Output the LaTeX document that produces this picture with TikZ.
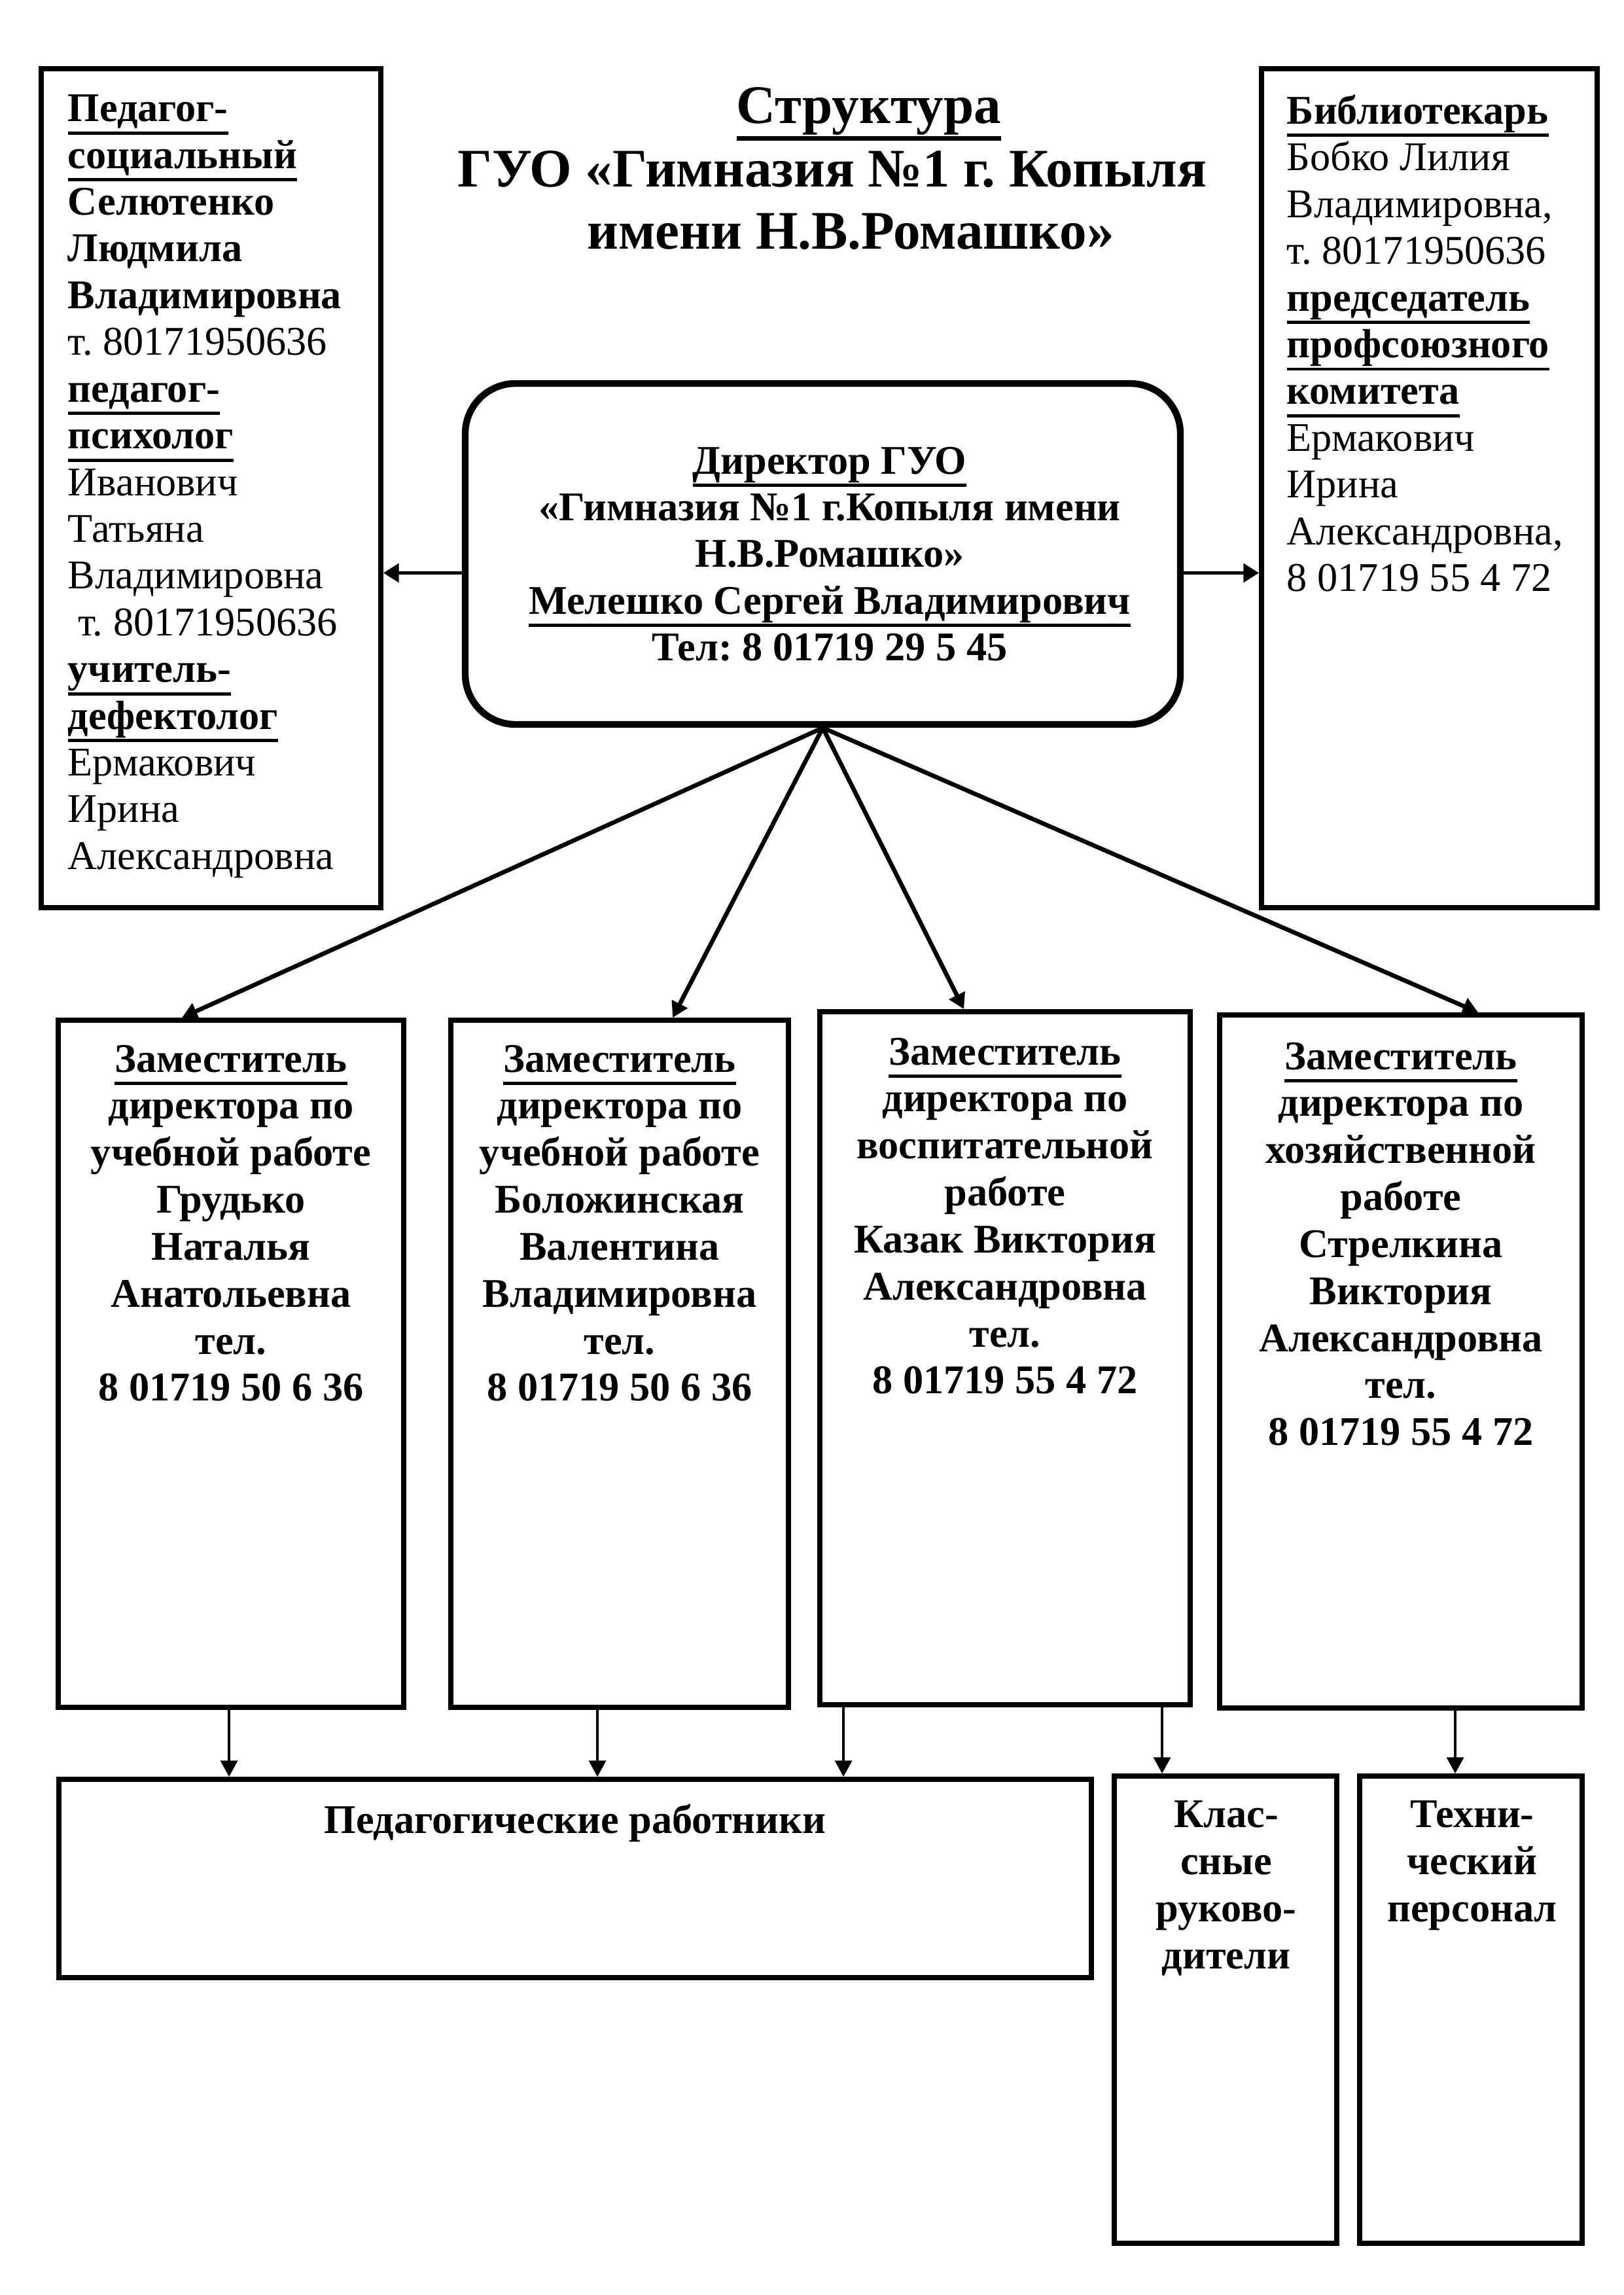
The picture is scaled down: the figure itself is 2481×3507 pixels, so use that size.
\documentclass[tikz,border=0pt]{standalone}
\usepackage{fontspec}
\setmainfont{Liberation Serif}
\usetikzlibrary{arrows.meta,fit,calc}
\newcommand{\ulx}[1]{\leavevmode\setbox0\hbox{#1}\rlap{\vrule height -0.24em depth 0.32em width \wd0}\box0}
\frenchspacing

\begin{document}
\frenchspacing
\begin{tikzpicture}[x=0.0846432mm,y=-0.0846432mm,
  box/.style={draw,line width=1.9pt,inner sep=0pt},
  dirbox/.style={draw,line width=2.5pt,rounded corners=6.5mm,inner sep=0pt},
  txt/.style={inner sep=0pt,font=\fontsize{15}{17.2}\selectfont\frenchspacing},
  ttl/.style={inner sep=0pt,font=\fontsize{20}{23}\selectfont\bfseries\frenchspacing},
  fan/.style={line width=1.6pt,-{Triangle[length=2mm,width=2.2mm]}},
  side/.style={line width=1.2pt,-{Triangle[length=2mm,width=2.4mm]}},
  down/.style={line width=0.9pt,-{Triangle[length=2.1mm,width=2.2mm]}},
]
\useasboundingbox (0,0) rectangle (2481,3507);

% boxes
\node[box,fit={(63,105) (582,1387)}] (L) {};
\node[box,fit={(1928,105) (2441,1387)}] (R) {};
\node[dirbox,fit={(711,586) (1804,1107)}] (dir) {};
\node[box,fit={(89,1559) (617,2609)}] (d1) {};
\node[box,fit={(689,1559) (1205,2609)}] (d2) {};
\node[box,fit={(1253,1546) (1819,2605)}] (d3) {};
\node[box,fit={(1864,1551) (2418,2610)}] (d4) {};
\node[box,fit={(90,2719) (1668,3022)}] (ped) {};
\node[box,fit={(1703,2714) (2043,3428)}] (kl) {};
\node[box,fit={(2078,2714) (2418,3428)}] (tech) {};

% title
\node[ttl,anchor=base] (t1) at (1328,188) {\ulx{Структура}};
\node[ttl,anchor=base] (t2) at (1272,285) {ГУО «Гимназия №1 г. Копыля};
\node[ttl,anchor=base] (t3) at (1300,380) {имени Н.В.Ромашко»};

% left text
\node[txt,anchor=north west,align=left] (Ltext) at (103,144) {%
\textbf{\ulx{Педагог-}}\\
\textbf{\ulx{социальный}}\\
\textbf{Селютенко}\\
\textbf{Людмила}\\
\textbf{Владимировна}\\
т. 80171950636\\
\textbf{\ulx{педагог-}}\\
\textbf{\ulx{психолог}}\\
Иванович\\
Татьяна\\
Владимировна\\
\hspace*{0.25em}т. 80171950636\\
\textbf{\ulx{учитель-}}\\
\textbf{\ulx{дефектолог}}\\
Ермакович\\
Ирина\\
Александровна};

% right text
\node[txt,anchor=north west,align=left] (Rtext) at (1966,144) {%
\textbf{\ulx{Библиотекарь}}\\
Бобко Лилия\\
Владимировна,\\
т. 80171950636\\
\textbf{\ulx{председатель}}\\
\textbf{\ulx{профсоюзного}}\\
\textbf{\ulx{комитета}}\\
Ермакович\\
Ирина\\
Александровна,\\
8 01719 55 4 72};

% director text
\node[txt,anchor=north,align=center,font=\fontsize{15}{17.2}\selectfont\bfseries\frenchspacing] (dirtext) at (1268,682) {%
\ulx{Директор ГУО}\\
«Гимназия №1 г.Копыля имени\\
Н.В.Ромашко»\\
\ulx{Мелешко Сергей Владимирович}\\
Тел: 8 01719 29 5 45};

% deputies
\tikzset{deptxt/.style={txt,anchor=north,align=center,font=\fontsize{15}{17.3}\selectfont\bfseries\frenchspacing}}
\node[deptxt] (d1text) at (353,1596) {%
\ulx{Заместитель}\\ директора по\\ учебной работе\\ Грудько\\ Наталья\\ Анатольевна\\ тел.\\ 8 01719 50 6 36};
\node[deptxt] (d2text) at (947,1596) {%
\ulx{Заместитель}\\ директора по\\ учебной работе\\ Боложинская\\ Валентина\\ Владимировна\\ тел.\\ 8 01719 50 6 36};
\node[deptxt] (d3text) at (1536,1585) {%
\ulx{Заместитель}\\ директора по\\ воспитательной\\ работе\\ Казак Виктория\\ Александровна\\ тел.\\ 8 01719 55 4 72};
\node[deptxt] (d4text) at (2141,1592) {%
\ulx{Заместитель}\\ директора по\\ хозяйственной\\ работе\\ Стрелкина\\ Виктория\\ Александровна\\ тел.\\ 8 01719 55 4 72};

% bottom texts
\node[deptxt] (pedtext) at (879,2756) {Педагогические работники};
\node[deptxt] (kltext) at (1874,2751) {Клас-\\сные\\руково-\\дители};
\node[deptxt] (techtext) at (2250,2751) {Техни-\\ческий\\персонал};

% side arrows
\coordinate (la) at ($(dir.west)+(0,29)$);
\coordinate (ra) at ($(dir.east)+(0,29)$);
\draw[side] (la) -- (la -| L.east);
\draw[side] (ra) -- (ra -| R.west);

% fan arrows
\draw[fan] (dir.south) -- ($(d1.north west)+(193,0)$);
\draw[fan] (dir.south) -- ($(d2.north west)+(343,0)$);
\draw[fan] (dir.south) -- ($(d3.north west)+(224,0)$);
\draw[fan] (dir.south) -- ($(d4.north west)+(399,0)$);

% down arrows
\coordinate (s1) at ($(d1.south west)+(265,0)$);
\coordinate (s2) at ($(d2.south west)+(228,0)$);
\coordinate (s3) at ($(d3.south west)+(40,0)$);
\coordinate (s4) at ($(d3.south west)+(527,0)$);
\coordinate (s5) at ($(d4.south west)+(364,0)$);
\draw[down] (s1) -- (s1 |- ped.north);
\draw[down] (s2) -- (s2 |- ped.north);
\draw[down] (s3) -- (s3 |- ped.north);
\draw[down] (s4) -- (s4 |- kl.north);
\draw[down] (s5) -- (s5 |- tech.north);
\end{tikzpicture}
\end{document}
